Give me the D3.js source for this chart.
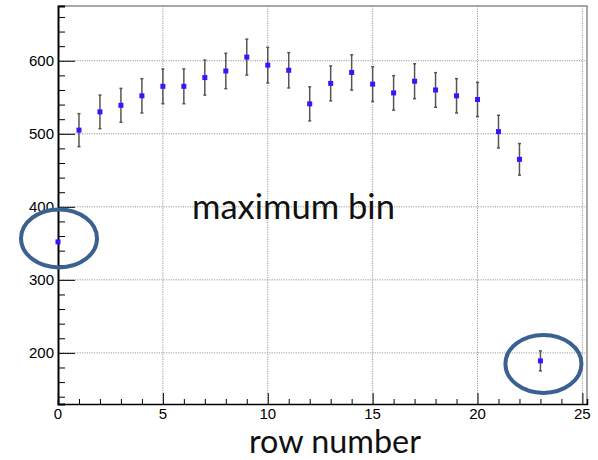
<!DOCTYPE html>
<html>
<head>
<meta charset="utf-8">
<script src="https://cdn.jsdelivr.net/npm/d3@7"></script>
<style>
  body { margin: 0; background: white; }
  svg { display: block; }
</style>
</head>
<body>
<div id="plot"></div>
<script>
// row number vs entries in the maximum bin
let rows = [0, 1, 2, 3, 4, 5, 6, 7, 8, 9, 10, 11, 12, 13, 14, 15, 16, 17, 18, 19, 20, 21, 22, 23];
let counts = [352, 505, 530, 539, 552, 565, 565, 577, 586, 605, 594, 587, 541, 569, 584, 568, 556, 572, 560, 552, 547, 503, 465, 189];
let errors = [0, 22.6, 23, 23.2, 23.5, 23.8, 23.8, 24, 24.2, 24.6, 24.4, 24.2, 23.3, 23.9, 24.2, 23.8, 23.6, 23.9, 23.7, 23.5, 23.4, 22.4, 21.6, 13.7];
let xTicks = [0, 5, 10, 15, 20, 25];
let yTicks = [200, 300, 400, 500, 600];
let circled = [0, 23];

let width = 598, height = 460;
let mLeft = 58, mRight = 587, mTop = 6, mBottom = 404;

let svg = d3.select('#plot').append('svg').attr('width', width).attr('height', height);

let x = d3.scaleLinear().domain([0, 25.22]).range([mLeft, mRight]);
let y = d3.scaleLinear().domain([130, 675]).range([mBottom, mTop]);

// grid
let grid = svg.append('g').attr('stroke', '#9a9a9a').attr('stroke-width', 1).attr('stroke-dasharray', '1.2,1.2');
grid.selectAll('.gx').data(xTicks.filter(d => d > 0)).enter().append('line')
  .attr('x1', d => x(d)).attr('x2', d => x(d)).attr('y1', mTop).attr('y2', mBottom);
grid.selectAll('.gy').data(yTicks).enter().append('line')
  .attr('x1', mLeft).attr('x2', mRight).attr('y1', d => y(d)).attr('y2', d => y(d));

// frame top/right
svg.append('path')
  .attr('d', `M${mLeft},${mTop}H${mRight}V${mBottom}`)
  .attr('fill', 'none').attr('stroke', '#8c8c8c').attr('stroke-width', 1.5);

// axes, ticks pointing inward
let xAxis = svg.append('g').attr('transform', `translate(0,${mBottom})`)
  .call(d3.axisTop(x).tickValues(d3.range(0, 26, 1)).tickSize(5).tickFormat(''));
xAxis.selectAll('.tick line').filter(d => d % 5 === 0).attr('y2', -11);
xAxis.select('.domain').attr('stroke-width', 1.5);

svg.append('g').attr('transform', `translate(0,${mBottom})`)
  .selectAll('text').data(xTicks).enter().append('text')
  .attr('x', d => x(d)).attr('y', 15)
  .attr('text-anchor', 'middle')
  .style('font-family', 'Liberation Sans, Arial, sans-serif').style('font-size', '15px')
  .text(d => d);

let yAxis = svg.append('g').attr('transform', `translate(${mLeft},0)`)
  .call(d3.axisRight(y).tickValues(d3.range(140, 675, 20)).tickSize(7).tickFormat(''));
yAxis.selectAll('.tick line').filter(d => d % 100 === 0).attr('x2', 17);
yAxis.select('.domain').attr('stroke-width', 2);

svg.append('g').selectAll('text').data(yTicks).enter().append('text')
  .attr('x', mLeft - 4).attr('y', d => y(d)).attr('dy', '0.36em')
  .attr('text-anchor', 'end')
  .style('font-family', 'Liberation Sans, Arial, sans-serif').style('font-size', '15px')
  .text(d => d);

let data = rows.map((r, i) => ({row: r, count: counts[i], err: errors[i]}));

// error bars
let eb = svg.append('g').attr('stroke', '#555').attr('stroke-width', 1.5);
let withErr = data.filter(d => d.err > 0);
eb.selectAll('.bar').data(withErr).enter().append('line')
  .attr('x1', d => x(d.row)).attr('x2', d => x(d.row))
  .attr('y1', d => y(d.count - d.err)).attr('y2', d => y(d.count + d.err));
eb.selectAll('.capt').data(withErr).enter().append('line')
  .attr('x1', d => x(d.row) - 1.5).attr('x2', d => x(d.row) + 1.5)
  .attr('y1', d => y(d.count + d.err)).attr('y2', d => y(d.count + d.err));
eb.selectAll('.capb').data(withErr).enter().append('line')
  .attr('x1', d => x(d.row) - 1.5).attr('x2', d => x(d.row) + 1.5)
  .attr('y1', d => y(d.count - d.err)).attr('y2', d => y(d.count - d.err));

// markers
svg.append('g').selectAll('rect').data(data).enter().append('rect')
  .attr('x', d => x(d.row) - 2.5).attr('y', d => y(d.count) - 2.5)
  .attr('width', 5).attr('height', 5)
  .attr('fill', '#3d12ff');

// highlight ellipses round the odd rows
svg.append('g').selectAll('ellipse').data(data.filter(d => circled.includes(d.row))).enter().append('ellipse')
  .attr('cx', d => x(d.row) + (d.row === 0 ? 1 : 3))
  .attr('cy', d => y(d.count) + (d.row === 0 ? -3.5 : 3))
  .attr('rx', 38).attr('ry', 29)
  .attr('fill', 'none').attr('stroke', '#3b6190').attr('stroke-width', 4);

// annotations
function fitText(t, w) {
  let fs = parseFloat(t.style('font-size'));
  let len = t.node().getComputedTextLength();
  t.style('font-size', (fs * w / len) + 'px');
}

let note = svg.append('text').attr('x', 192).attr('y', 219)
  .style('font-family', 'Lato, Open Sans, sans-serif').style('font-size', '30px')
  .attr('fill', '#111')
  .text('maximum bin');
fitText(note, 203);

let xlabel = svg.append('text').attr('x', 249).attr('y', 453)
  .style('font-family', 'Lato, Open Sans, sans-serif').style('font-size', '30px')
  .attr('fill', '#111')
  .text('row number');
fitText(xlabel, 172);
</script>
</body>
</html>
